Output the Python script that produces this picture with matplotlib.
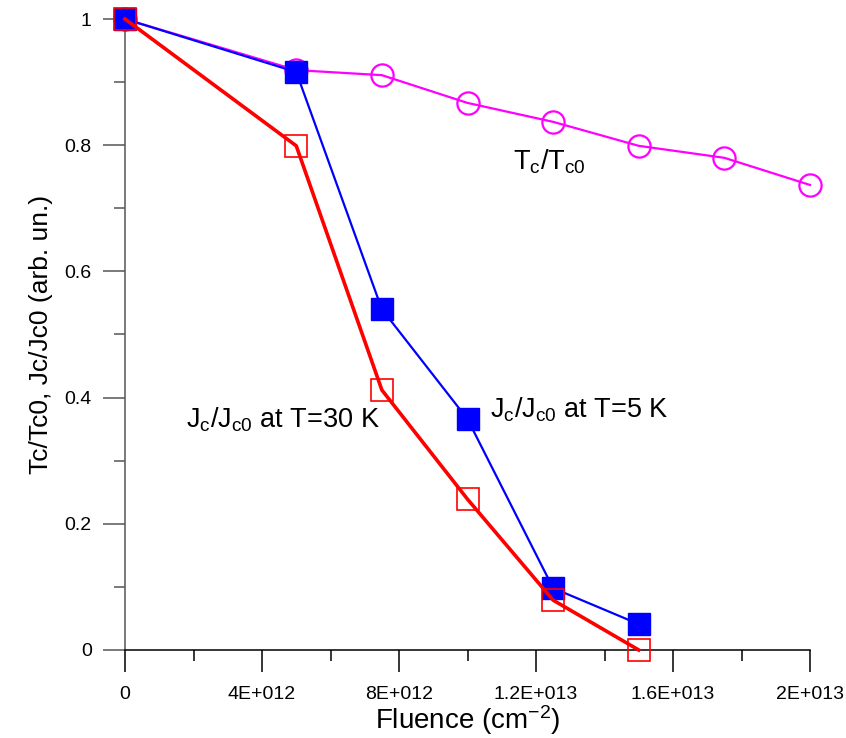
import matplotlib
matplotlib.use("Agg")
import matplotlib.pyplot as plt
from matplotlib.ticker import MultipleLocator

plt.rcParams['font.family'] = ['Liberation Sans', 'DejaVu Sans']
plt.rcParams['mathtext.fontset'] = 'custom'
plt.rcParams['mathtext.rm'] = 'Liberation Sans'
plt.rcParams['mathtext.it'] = 'Liberation Sans'

# fluence, cm^-2
fluence = [0, 5e12, 7.5e12, 1e13, 1.25e13, 1.5e13]
fluence_tc = [0, 5e12, 7.5e12, 1e13, 1.25e13, 1.5e13, 1.75e13, 2e13]

jc_5k = [1.0, 0.916, 0.540, 0.366, 0.098, 0.041]
jc_30k = [1.0, 0.799, 0.412, 0.239, 0.079, 0.0]
tc = [1.0, 0.919, 0.911, 0.867, 0.837, 0.799, 0.780, 0.737]

x_ticks = [0, 4e12, 8e12, 1.2e13, 1.6e13, 2e13]
x_tick_labels = ['0', '4E+012', '8E+012', '1.2E+013', '1.6E+013', '2E+013']
y_ticks = [0, 0.2, 0.4, 0.6, 0.8, 1.0]
y_tick_labels = ['0', '0.2', '0.4', '0.6', '0.8', '1']

fig = plt.figure(figsize=(8.46, 7.38), dpi=100)
ax = fig.add_axes([125/846, 88/738, 685/846, 631/738])

ax.plot(fluence_tc, tc, color='#ff00ff', lw=1.6, marker='o', ms=16,
        mfc='none', mec='#ff00ff', mew=1.6, clip_on=False, zorder=2)
ax.plot(fluence, jc_5k, color='#0000ff', lw=1.6, marker='s', ms=16,
        mfc='#0000ff', mec='#0000ff', clip_on=False, zorder=3)
ax.plot(fluence, jc_30k, color='#ff0000', lw=2.6, marker='s', ms=15.5,
        mfc='none', mec='#ff0000', mew=1.2, clip_on=False, zorder=4)

ax.set_xlim(0, 2e13)
ax.set_ylim(0, 1)
ax.set_xticks(x_ticks)
ax.set_xticklabels(x_tick_labels)
ax.set_yticks(y_ticks)
ax.set_yticklabels(y_tick_labels)
ax.xaxis.set_minor_locator(MultipleLocator(2e12))
ax.yaxis.set_minor_locator(MultipleLocator(0.1))

for s in ['top', 'right']:
    ax.spines[s].set_visible(False)
ax.spines['left'].set_color('#555555')
ax.spines['bottom'].set_color('black')
ax.spines['left'].set_linewidth(1.1)
ax.spines['bottom'].set_linewidth(1.1)

ax.tick_params(axis='x', which='major', direction='out', length=16, width=1.1,
               color='black', labelsize=14, pad=10)
ax.tick_params(axis='x', which='minor', direction='out', length=8, width=1.1,
               color='black')
ax.tick_params(axis='y', which='major', direction='out', length=16, width=1.1,
               color='#555555', labelsize=14, pad=8)
ax.tick_params(axis='y', which='minor', direction='out', length=8, width=1.1,
               color='#555555')

ax.set_xlabel(r'Fluence (cm$^{\mathrm{-2}}$)', fontsize=20, labelpad=0)
ax.set_ylabel('Tc/Tc0, Jc/Jc0 (arb. un.)', fontsize=19, labelpad=8)

ax.text(11.33e12, 0.761, r'T$_{\mathrm{c}}$/T$_{\mathrm{c0}}$', fontsize=19.5)
ax.text(1.78e12, 0.353, r'J$_{\mathrm{c}}$/J$_{\mathrm{c0}}$ at T=30 K', fontsize=19.5)
ax.text(10.66e12, 0.368, r'J$_{\mathrm{c}}$/J$_{\mathrm{c0}}$ at T=5 K', fontsize=19.5)

fig.savefig('out.png', dpi=100)
